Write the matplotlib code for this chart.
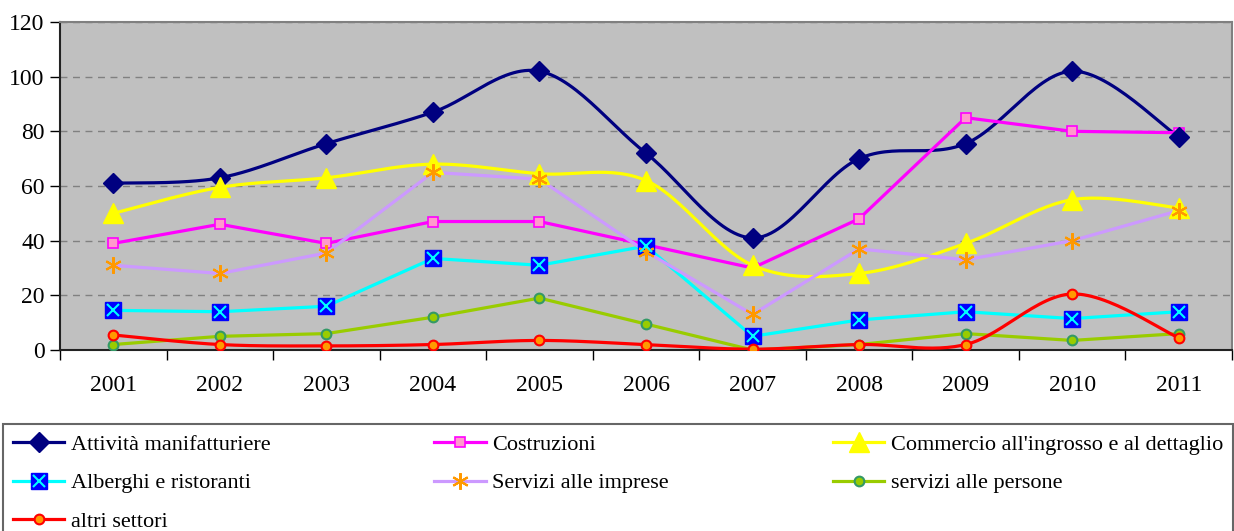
import matplotlib
matplotlib.use("Agg")
import matplotlib.pyplot as plt
import numpy as np
from matplotlib.ticker import FixedLocator, NullFormatter

plt.rcParams["font.family"] = ["Liberation Serif", "DejaVu Serif"]

years = ["2001", "2002", "2003", "2004", "2005", "2006",
         "2007", "2008", "2009", "2010", "2011"]

manifatturiere = [61, 63, 75.5, 87, 102, 72, 41, 70, 75.5, 102, 78]
costruzioni = [39, 46, 39, 47, 47, 38.5, 30, 48, 85, 80, 79.5]
commercio = [50, 59.5, 63, 68, 64.5, 62, 31, 28, 39, 55, 52]
alberghi = [14.5, 14, 16, 33.5, 31, 38, 5, 11, 14, 11.5, 14]
servizi_imprese = [31, 28, 35.5, 65, 62.5, 36, 13, 37, 33, 40, 51]
servizi_persone = [2, 5, 6, 12, 19, 9.5, 0, 2, 6, 3.5, 6]
altri_settori = [5.5, 2, 1.5, 2, 3.5, 2, 0.3, 2, 2, 20.5, 4.5]


def smooth(xs, ys, n=30):
    # Excel-like smoothed line: cubic bezier with catmull-rom tangents
    xs = np.asarray(xs, float)
    ys = np.asarray(ys, float)
    pts = np.column_stack([xs, ys])
    out = []
    for i in range(len(pts) - 1):
        p0 = pts[max(i - 1, 0)]
        p1 = pts[i]
        p2 = pts[i + 1]
        p3 = pts[min(i + 2, len(pts) - 1)]
        c1 = p1 + (p2 - p0) / 6
        c2 = p2 - (p3 - p1) / 6
        t = np.linspace(0, 1, n)[:, None]
        seg = ((1 - t) ** 3) * p1 + 3 * ((1 - t) ** 2) * t * c1 \
            + 3 * (1 - t) * t ** 2 * c2 + t ** 3 * p2
        out.append(seg if i == 0 else seg[1:])
    seg = np.vstack(out)
    return seg[:, 0], seg[:, 1]


fig = plt.figure(figsize=(12.34, 5.31), dpi=100)
ax = fig.add_axes([60 / 1234, 1 - 350 / 531, 1172 / 1234, 328 / 531])
ax.set_facecolor("#C0C0C0")

x = np.arange(len(years))
lw = 2.3

# Attività manifatturiere
sx, sy = smooth(x, manifatturiere)
ax.plot(sx, sy, color="#000080", lw=lw, zorder=3)
ax.plot(x, manifatturiere, ls="none", marker="D", ms=10, color="#000080", zorder=4)
h1, = ax.plot([], [], color="#000080", lw=lw, marker="D", ms=10)

# Costruzioni
ax.plot(x, costruzioni, color="#FF00FF", lw=lw, marker="s", ms=7,
        mfc="#FF99CC", mec="#FF00FF", mew=1.2, zorder=3)
h2, = ax.plot([], [], color="#FF00FF", lw=lw, marker="s", ms=7,
              mfc="#FF99CC", mec="#FF00FF", mew=1.2)

# Commercio
sx, sy = smooth(x, commercio)
ax.plot(sx, sy, color="#FFFF00", lw=lw, zorder=3)
ax.plot(x, commercio, ls="none", marker="^", ms=14, color="#FFFF00", zorder=4)
h3, = ax.plot([], [], color="#FFFF00", lw=lw, marker="^", ms=14)

# Alberghi e ristoranti
ax.plot(x, alberghi, color="#00FFFF", lw=lw, zorder=3)
ax.plot(x, alberghi, ls="none", marker="s", ms=12, color="#0000FF", zorder=4)
ax.plot(x, alberghi, ls="none", marker="x", ms=8, mew=1.5, color="#00FFFF", zorder=5)
h4a, = ax.plot([], [], color="#00FFFF", lw=lw)
h4b, = ax.plot([], [], ls="none", marker="s", ms=12, color="#0000FF")
h4c, = ax.plot([], [], ls="none", marker="x", ms=8, mew=1.5, color="#00FFFF")

# Servizi alle imprese
ax.plot(x, servizi_imprese, color="#CC99FF", lw=lw, zorder=3)
ax.plot(x, servizi_imprese, ls="none", marker=(6, 2, 0), ms=12, mew=1.5,
        color="#FF9900", zorder=4)
h5a, = ax.plot([], [], color="#CC99FF", lw=lw)
h5b, = ax.plot([], [], ls="none", marker=(6, 2, 0), ms=12, mew=1.5, color="#FF9900")

# servizi alle persone
ax.plot(x, servizi_persone, color="#99CC00", lw=lw, marker="o", ms=7,
        mfc="#99CC00", mec="#339966", mew=1.5, zorder=3)
h6, = ax.plot([], [], color="#99CC00", lw=lw, marker="o", ms=7,
              mfc="#99CC00", mec="#339966", mew=1.5)

# altri settori
sx, sy = smooth(x, altri_settori)
ax.plot(sx, sy, color="#FF0000", lw=lw, zorder=3.5)
ax.plot(x, altri_settori, ls="none", marker="o", ms=7, mfc="#FF9900",
        mec="#FF0000", mew=1.5, zorder=4.5)
h7, = ax.plot([], [], color="#FF0000", lw=lw, marker="o", ms=7,
              mfc="#FF9900", mec="#FF0000", mew=1.5)

ax.set_xlim(-0.5, len(years) - 0.5)
ax.set_ylim(0, 120)
ax.set_yticks(range(0, 121, 20))
ax.yaxis.grid(True, ls=(0, (5, 4)), color="#808080", lw=1)
ax.set_axisbelow(True)

ax.xaxis.set_major_locator(FixedLocator(np.arange(-0.5, len(years), 1)))
ax.xaxis.set_major_formatter(NullFormatter())
ax.set_xticks(x, minor=True)
ax.set_xticklabels(years, minor=True)
ax.tick_params(axis="x", which="minor", length=0, pad=18, labelsize=17)
ax.tick_params(axis="x", which="major", length=7, width=1)
ax.tick_params(axis="y", length=7, width=1, pad=4, labelsize=17)

for s in ["top", "right"]:
    ax.spines[s].set_color("#808080")
    ax.spines[s].set_linewidth(1.5)
for s in ["left", "bottom"]:
    ax.spines[s].set_color("#222222")
    ax.spines[s].set_linewidth(1.5)

handles = [h1, (h4a, h4b, h4c), h7, h2, (h5a, h5b), h3, h6]
labels = ["Attività manifatturiere", "Alberghi e ristoranti", "altri settori",
          "Costruzioni", "Servizi alle imprese",
          "Commercio all'ingrosso e al dettaglio", "servizi alle persone"]
leg = fig.legend(handles, labels, ncol=3, loc="upper left",
                 bbox_to_anchor=(3 / 1234, 0, 1230 / 1234, 1 - 424 / 531),
                 mode="expand", fontsize=16, frameon=True, fancybox=False,
                 edgecolor="#404040", handlelength=2.3, handletextpad=0.3,
                 labelspacing=0.82, borderaxespad=0, borderpad=0.45)
leg.get_frame().set_linewidth(1.5)

fig.savefig("out.png", dpi=100)
